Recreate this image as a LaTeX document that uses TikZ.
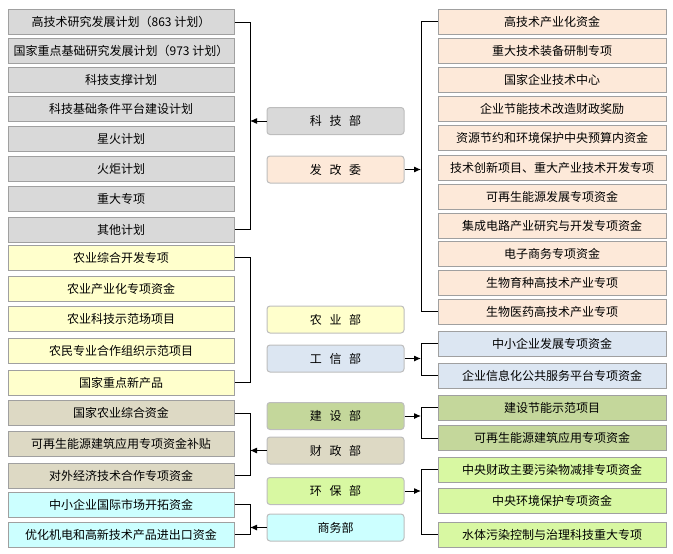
\documentclass[tikz,border=0pt]{standalone}
\usepackage{fontspec}
\setmainfont{Noto Sans CJK SC}
\newfontfamily\deptfont[WordSpace=2.8]{Noto Sans CJK SC}
\usepackage{xcolor}
\usepackage{tikz}
\usetikzlibrary{arrows.meta}

\definecolor{kjgray}{HTML}{D9D9D9}
\definecolor{fgpeach}{HTML}{FDE9D9}
\definecolor{nyyellow}{HTML}{FFFFCC}
\definecolor{gxblue}{HTML}{DCE6F2}
\definecolor{jsolive}{HTML}{C4D79B}
\definecolor{cztan}{HTML}{DDD9C4}
\definecolor{hblime}{HTML}{D8F8A2}
\definecolor{swcyan}{HTML}{CCFFFF}
\definecolor{boxline}{HTML}{A0A0A0}

\tikzset{
  fundl/.style={draw=boxline, line width=1pt, minimum width=226pt, minimum height=25pt, inner sep=0pt, font=\fontsize{12}{14}\selectfont},
  fundr/.style={fundl, minimum width=228pt},
  dept/.style={draw=boxline!70, line width=1pt, rounded corners=3pt, minimum width=137pt, minimum height=27pt, inner sep=0pt, font=\deptfont\fontsize{12}{14}\selectfont},
  link/.style={line width=1pt},
  feed/.style={link, -{Latex[length=7pt,width=6pt]}}
}

\begin{document}
\begin{tikzpicture}[x=1pt, y=-1pt]
    \useasboundingbox (0,0) rectangle (673,554);

    % bus lines of the brackets
    \coordinate (lbus) at (250,0);
    \coordinate (rbus) at (421,0);

    % the departments
    \node[dept, fill=kjgray]   (kjb) at (335.5,121)   {科 技 部};
    \node[dept, fill=fgpeach]  (fgw) at (335.5,169.5) {发 改 委};
    \node[dept, fill=nyyellow] (nyb) at (335.5,319.5) {农 业 部};
    \node[dept, fill=gxblue]   (gxb) at (335.5,358.5) {工 信 部};
    \node[dept, fill=jsolive]  (jsb) at (335.5,416)   {建 设 部};
    \node[dept, fill=cztan]    (czb) at (335.5,450.5) {财 政 部};
    \node[dept, fill=hblime]   (hbb) at (335.5,491)   {环 保 部};
    \node[dept, fill=swcyan]   (swb) at (335.5,527.5) {商务部};

    % funds of the science ministry
    \node[fundl, fill=kjgray] (kj1) at (121,22)    {高技术研究发展计划（863 计划）};
    \node[fundl, fill=kjgray] (kj2) at (121,51)    {国家重点基础研究发展计划（973 计划）};
    \node[fundl, fill=kjgray] (kj3) at (121,80)    {科技支撑计划};
    \node[fundl, fill=kjgray] (kj4) at (121,109)   {科技基础条件平台建设计划};
    \node[fundl, fill=kjgray] (kj5) at (121,139)   {星火计划};
    \node[fundl, fill=kjgray] (kj6) at (121,169)   {火炬计划};
    \node[fundl, fill=kjgray] (kj7) at (121,199)   {重大专项};
    \node[fundl, fill=kjgray] (kj8) at (121,229.5) {其他计划};

    % funds of the agriculture ministry
    \node[fundl, fill=nyyellow] (ny1) at (121,257.5) {农业综合开发专项};
    \node[fundl, fill=nyyellow] (ny2) at (121,289)   {农业产业化专项资金};
    \node[fundl, fill=nyyellow] (ny3) at (121,319)   {农业科技示范场项目};
    \node[fundl, fill=nyyellow] (ny4) at (121,350.5) {农民专业合作组织示范项目};
    \node[fundl, fill=nyyellow] (ny5) at (121,382.5) {国家重点新产品};

    % funds of the finance ministry
    \node[fundl, fill=cztan] (cz1) at (121,413)   {国家农业综合资金};
    \node[fundl, fill=cztan] (cz2) at (121,444)   {可再生能源建筑应用专项资金补贴};
    \node[fundl, fill=cztan] (cz3) at (121,475.5) {对外经济技术合作专项资金};

    % funds of the commerce ministry
    \node[fundl, fill=swcyan] (sw1) at (121,504.5) {中小企业国际市场开拓资金};
    \node[fundl, fill=swcyan] (sw2) at (121,534.5) {优化机电和高新技术产品进出口资金};

    % funds of the reform commission
    \node[fundr, fill=fgpeach] (fg1)  at (552,21.5)  {高技术产业化资金};
    \node[fundr, fill=fgpeach] (fg2)  at (552,50.5)  {重大技术装备研制专项};
    \node[fundr, fill=fgpeach] (fg3)  at (552,79.5)  {国家企业技术中心};
    \node[fundr, fill=fgpeach] (fg4)  at (552,108.5) {企业节能技术改造财政奖励};
    \node[fundr, fill=fgpeach] (fg5)  at (552,137.5) {资源节约和环境保护中央预算内资金};
    \node[fundr, fill=fgpeach] (fg6)  at (552,167.5) {技术创新项目、重大产业技术开发专项};
    \node[fundr, fill=fgpeach] (fg7)  at (552,196.5) {可再生能源发展专项资金};
    \node[fundr, fill=fgpeach] (fg8)  at (552,225.5) {集成电路产业研究与开发专项资金};
    \node[fundr, fill=fgpeach] (fg9)  at (552,254)   {电子商务专项资金};
    \node[fundr, fill=fgpeach] (fg10) at (552,282.5) {生物育种高技术产业专项};
    \node[fundr, fill=fgpeach] (fg11) at (552,311.5) {生物医药高技术产业专项};

    % funds of the industry ministry
    \node[fundr, fill=gxblue] (gx1) at (552,343.5) {中小企业发展专项资金};
    \node[fundr, fill=gxblue] (gx2) at (552,375.5) {企业信息化公共服务平台专项资金};

    % funds of the construction ministry
    \node[fundr, fill=jsolive] (js1) at (552,407.5) {建设节能示范项目};
    \node[fundr, fill=jsolive] (js2) at (552,438)   {可再生能源建筑应用专项资金};

    % funds of the environment ministry
    \node[fundr, fill=hblime] (hb1) at (552,469.5) {中央财政主要污染物减排专项资金};
    \node[fundr, fill=hblime] (hb2) at (552,500.5) {中央环境保护专项资金};
    \node[fundr, fill=hblime] (hb3) at (552,534.5) {水体污染控制与治理科技重大专项};

    % brackets on the left
    \draw[link] (kj1.east) -| (kj1.east -| lbus) |- (kj8.east);
    \draw[link] (ny1.east) -| (ny1.east -| lbus) |- (ny5.east);
    \draw[link] (cz1.east) -| (cz1.east -| lbus) |- (cz3.east);
    \draw[link] (sw1.east) -| (sw1.east -| lbus) |- (sw2.east);

    % brackets on the right
    \draw[link] (fg1.west) -| (fg1.west -| rbus) |- (fg11.west);
    \draw[link] (gx1.west) -| (gx1.west -| rbus) |- (gx2.west);
    \draw[link] (js1.west) -| (js1.west -| rbus) |- (js2.west);
    \draw[link] (hb1.west) -| (hb1.west -| rbus) |- (hb3.west);

    % arrows from the departments
    \draw[feed] (kjb.west) -- (kjb.west -| lbus);
    \draw[feed] (czb.west) -- (czb.west -| lbus);
    \draw[feed] (swb.west) -- (swb.west -| lbus);
    \draw[feed] (fgw.east) -- (fgw.east -| rbus);
    \draw[feed] (gxb.east) -- (gxb.east -| rbus);
    \draw[feed] (jsb.east) -- (jsb.east -| rbus);
    \draw[feed] (hbb.east) -- (hbb.east -| rbus);

\end{tikzpicture}
\end{document}
